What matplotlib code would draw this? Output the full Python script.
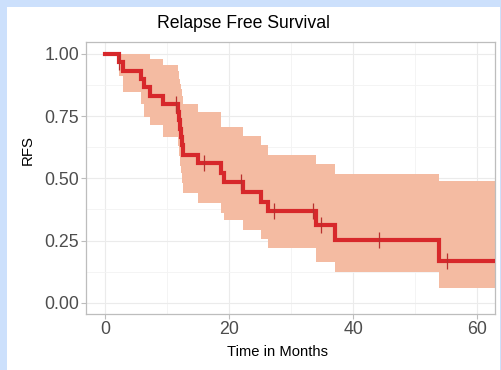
import numpy as np
import matplotlib
matplotlib.use("Agg")
import matplotlib.pyplot as plt
from matplotlib.patches import Rectangle
from matplotlib.ticker import MultipleLocator

plt.rcParams['font.family'] = ['Liberation Sans', 'DejaVu Sans']

# Kaplan-Meier step curve (time in months, survival after each step)
time = [0, 2.2, 2.8, 5.8, 6.2, 7.3, 9.3, 11.7, 11.9, 12.1, 12.2, 12.4, 12.6,
        15.0, 18.7, 19.1, 22.2, 25.1, 26.3, 34.0, 37.1, 53.8]
surv = [1.0, 0.967, 0.933, 0.90, 0.867, 0.833, 0.80, 0.767, 0.733, 0.70, 0.667,
        0.633, 0.594, 0.561, 0.52, 0.484, 0.447, 0.407, 0.367, 0.313, 0.253, 0.167]

# confidence band
ci_time = [2.2, 2.8, 5.8, 6.2, 7.3, 9.3, 11.7, 11.9, 12.1, 12.2, 12.4, 12.6,
           15.0, 18.7, 19.1, 22.2, 25.1, 26.3, 34.0, 37.1, 53.8]
ci_upper = [1.0, 1.0, 1.0, 1.0, 0.979, 0.956, 0.93, 0.90, 0.88, 0.86, 0.83, 0.80,
            0.768, 0.708, 0.708, 0.671, 0.635, 0.595, 0.557, 0.517, 0.488]
ci_lower = [0.91, 0.849, 0.80, 0.748, 0.715, 0.668, 0.63, 0.59, 0.55, 0.52, 0.48, 0.44,
            0.40, 0.36, 0.333, 0.293, 0.256, 0.22, 0.162, 0.122, 0.059]

# censoring marks
censor_time = [2.3, 11.4, 16.0, 21.9, 27.2, 33.6, 34.9, 44.2, 55.2]

x_ticks = [0, 20, 40, 60]
y_ticks = [0.00, 0.25, 0.50, 0.75, 1.00]
y_ticklabels = ["0.00", "0.25", "0.50", "0.75", "1.00"]

W, H = 502, 370
fig = plt.figure(figsize=(W / 100, H / 100), dpi=100)
fig.patch.set_facecolor('#CCE0FC')
fig.add_artist(Rectangle((7 / W, 0), 493 / W, (H - 7) / H, transform=fig.transFigure,
                         facecolor='white', edgecolor='none', zorder=0))

ax = fig.add_axes([86 / W, 1 - 314 / H, (495 - 86) / W, (314 - 42) / H])
ax.set_facecolor('white')

end = 64
ax.fill_between(ci_time + [end], ci_lower + [ci_lower[-1]], ci_upper + [ci_upper[-1]],
                step='post', color='#F4BBA2', linewidth=0, zorder=2)
ax.step(time + [end], surv + [surv[-1]], where='post', color='#D7282B', lw=3.0,
        zorder=3, solid_joinstyle='miter')

t_arr = np.array(time)
s_arr = np.array(surv)
idx = np.searchsorted(t_arr, censor_time, side='right') - 1
ax.plot(censor_time, s_arr[idx], linestyle='none', marker='|', ms=11, mew=0.9,
        color='#B8302E', zorder=4)

ax.set_xlim(-3.1, 62.9)
ax.set_ylim(-0.045, 1.048)
ax.set_xticks(x_ticks)
ax.set_yticks(y_ticks)
ax.set_yticklabels(y_ticklabels)
ax.xaxis.set_minor_locator(MultipleLocator(10))
ax.yaxis.set_minor_locator(MultipleLocator(0.125))
ax.grid(which='major', color='#EBEBEB', lw=0.8, zorder=0)
ax.grid(which='minor', color='#F3F3F3', lw=0.6, zorder=0)
ax.set_axisbelow(True)
for sp in ax.spines.values():
    sp.set_color('#BDBDBD')
    sp.set_linewidth(0.9)
ax.tick_params(which='major', color='#BDBDBD', length=3.5, width=0.8,
               labelcolor='#4D4D4D', labelsize=12.8, pad=1.5)
ax.tick_params(which='minor', length=0)

fig.text(243 / W, 1 - 28.3 / H, "Relapse Free Survival", ha='center', va='baseline',
         fontsize=12.7, color='black')
fig.text(278 / W, 1 - 356 / H, "Time in Months", ha='center', va='baseline',
         fontsize=10.6, color='black')
fig.text(28 / W, 1 - 150 / H, "RFS", ha='center', va='center', rotation=90,
         fontsize=10.8, color='black')

fig.savefig("out.png", dpi=100, facecolor=fig.get_facecolor())
